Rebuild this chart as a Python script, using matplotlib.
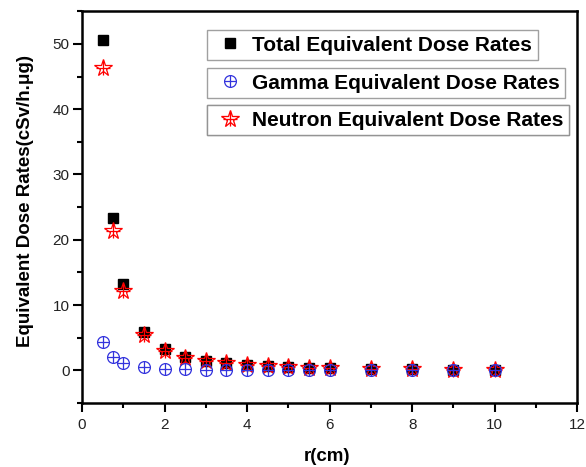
import matplotlib
matplotlib.use("Agg")
import matplotlib.pyplot as plt
from matplotlib.legend_handler import HandlerTuple
import numpy as np

plt.rcParams['font.family'] = ['Liberation Sans', 'DejaVu Sans']

r = [0.5, 0.75, 1.0, 1.5, 2.0, 2.5, 3.0, 3.5, 4.0, 4.5, 5.0, 5.5, 6.0, 7.0, 8.0, 9.0, 10.0]
total = [50.6, 23.4, 13.2, 5.9, 3.3, 2.1, 1.5, 1.2, 0.85, 0.65, 0.5, 0.4, 0.32, 0.22, 0.16, 0.12, 0.1]
gamma = [4.3, 2.0, 1.1, 0.5, 0.25, 0.15, 0.1, 0.07, 0.05, 0.04, 0.03, 0.03, 0.02, 0.02, 0.01, 0.01, 0.01]
neutron = [46.3, 21.4, 12.1, 5.4, 3.0, 1.9, 1.4, 1.1, 0.8, 0.6, 0.47, 0.37, 0.3, 0.2, 0.15, 0.11, 0.09]

labels = ["Total Equivalent Dose Rates",
          "Gamma Equivalent Dose Rates",
          "Neutron Equivalent Dose Rates"]

fig = plt.figure(figsize=(5.86, 4.67), dpi=100)
ax = fig.add_axes([0.140, 0.137, 0.845, 0.839])

h_tot, = ax.plot(r, total, ls='none', marker='s', ms=7, color='black')
h_n1, = ax.plot(r, neutron, ls='none', marker='*', ms=13, mfc='none', mec='red', mew=0.9)
h_n2, = ax.plot(r, neutron, ls='none', marker='+', ms=10, mec='red', mew=0.9)
h_g1, = ax.plot(r, gamma, ls='none', marker='o', ms=8.5, mfc='none', mec='#3333dd', mew=0.9)
h_g2, = ax.plot(r, gamma, ls='none', marker='+', ms=8.5, mec='#3333dd', mew=0.9)

ax.set_xlim(0, 12)
ax.set_ylim(-5, 55)
ax.set_xticks(np.arange(0, 13, 2))
ax.set_xticks(np.arange(1, 12, 2), minor=True)
ax.set_yticks(np.arange(0, 51, 10))
ax.set_yticks(np.arange(-5, 56, 10), minor=True)
ax.tick_params(which='major', direction='out', length=6.5, width=1.5, labelsize=11,
               labelcolor='#222222', pad=2.5)
ax.tick_params(axis='x', which='major', pad=4.5)
ax.tick_params(which='minor', direction='out', length=3.5, width=1.5)
for s in ax.spines.values():
    s.set_linewidth(1.8)

ax.set_xlabel("r(cm)", fontsize=13.5, fontweight='bold')
ax.set_ylabel("Equivalent Dose Rates(cSv/h.\u03bcg)", fontsize=13.5, fontweight='bold')
ax.xaxis.set_label_coords(0.495, -0.115)
ax.yaxis.set_label_coords(-0.097, 0.515)

# three separate legend boxes, one per series
handles = [h_tot, (h_g1, h_g2), (h_n1, h_n2)]
tops = [0.952, 0.855, 0.760]
for h, lab, top in zip(handles, labels, tops):
    leg = ax.legend([h], [lab], loc='upper left', bbox_to_anchor=(0.252, top),
                    frameon=True, fancybox=False, edgecolor='#888888',
                    prop={'size': 15, 'weight': 'bold'}, borderpad=0.27,
                    handlelength=1.7, handletextpad=0.2, borderaxespad=0,
                    handler_map={tuple: HandlerTuple(ndivide=1)})
    leg.get_frame().set_linewidth(1.0)
    ax.add_artist(leg)

fig.savefig("out.png", dpi=100)
